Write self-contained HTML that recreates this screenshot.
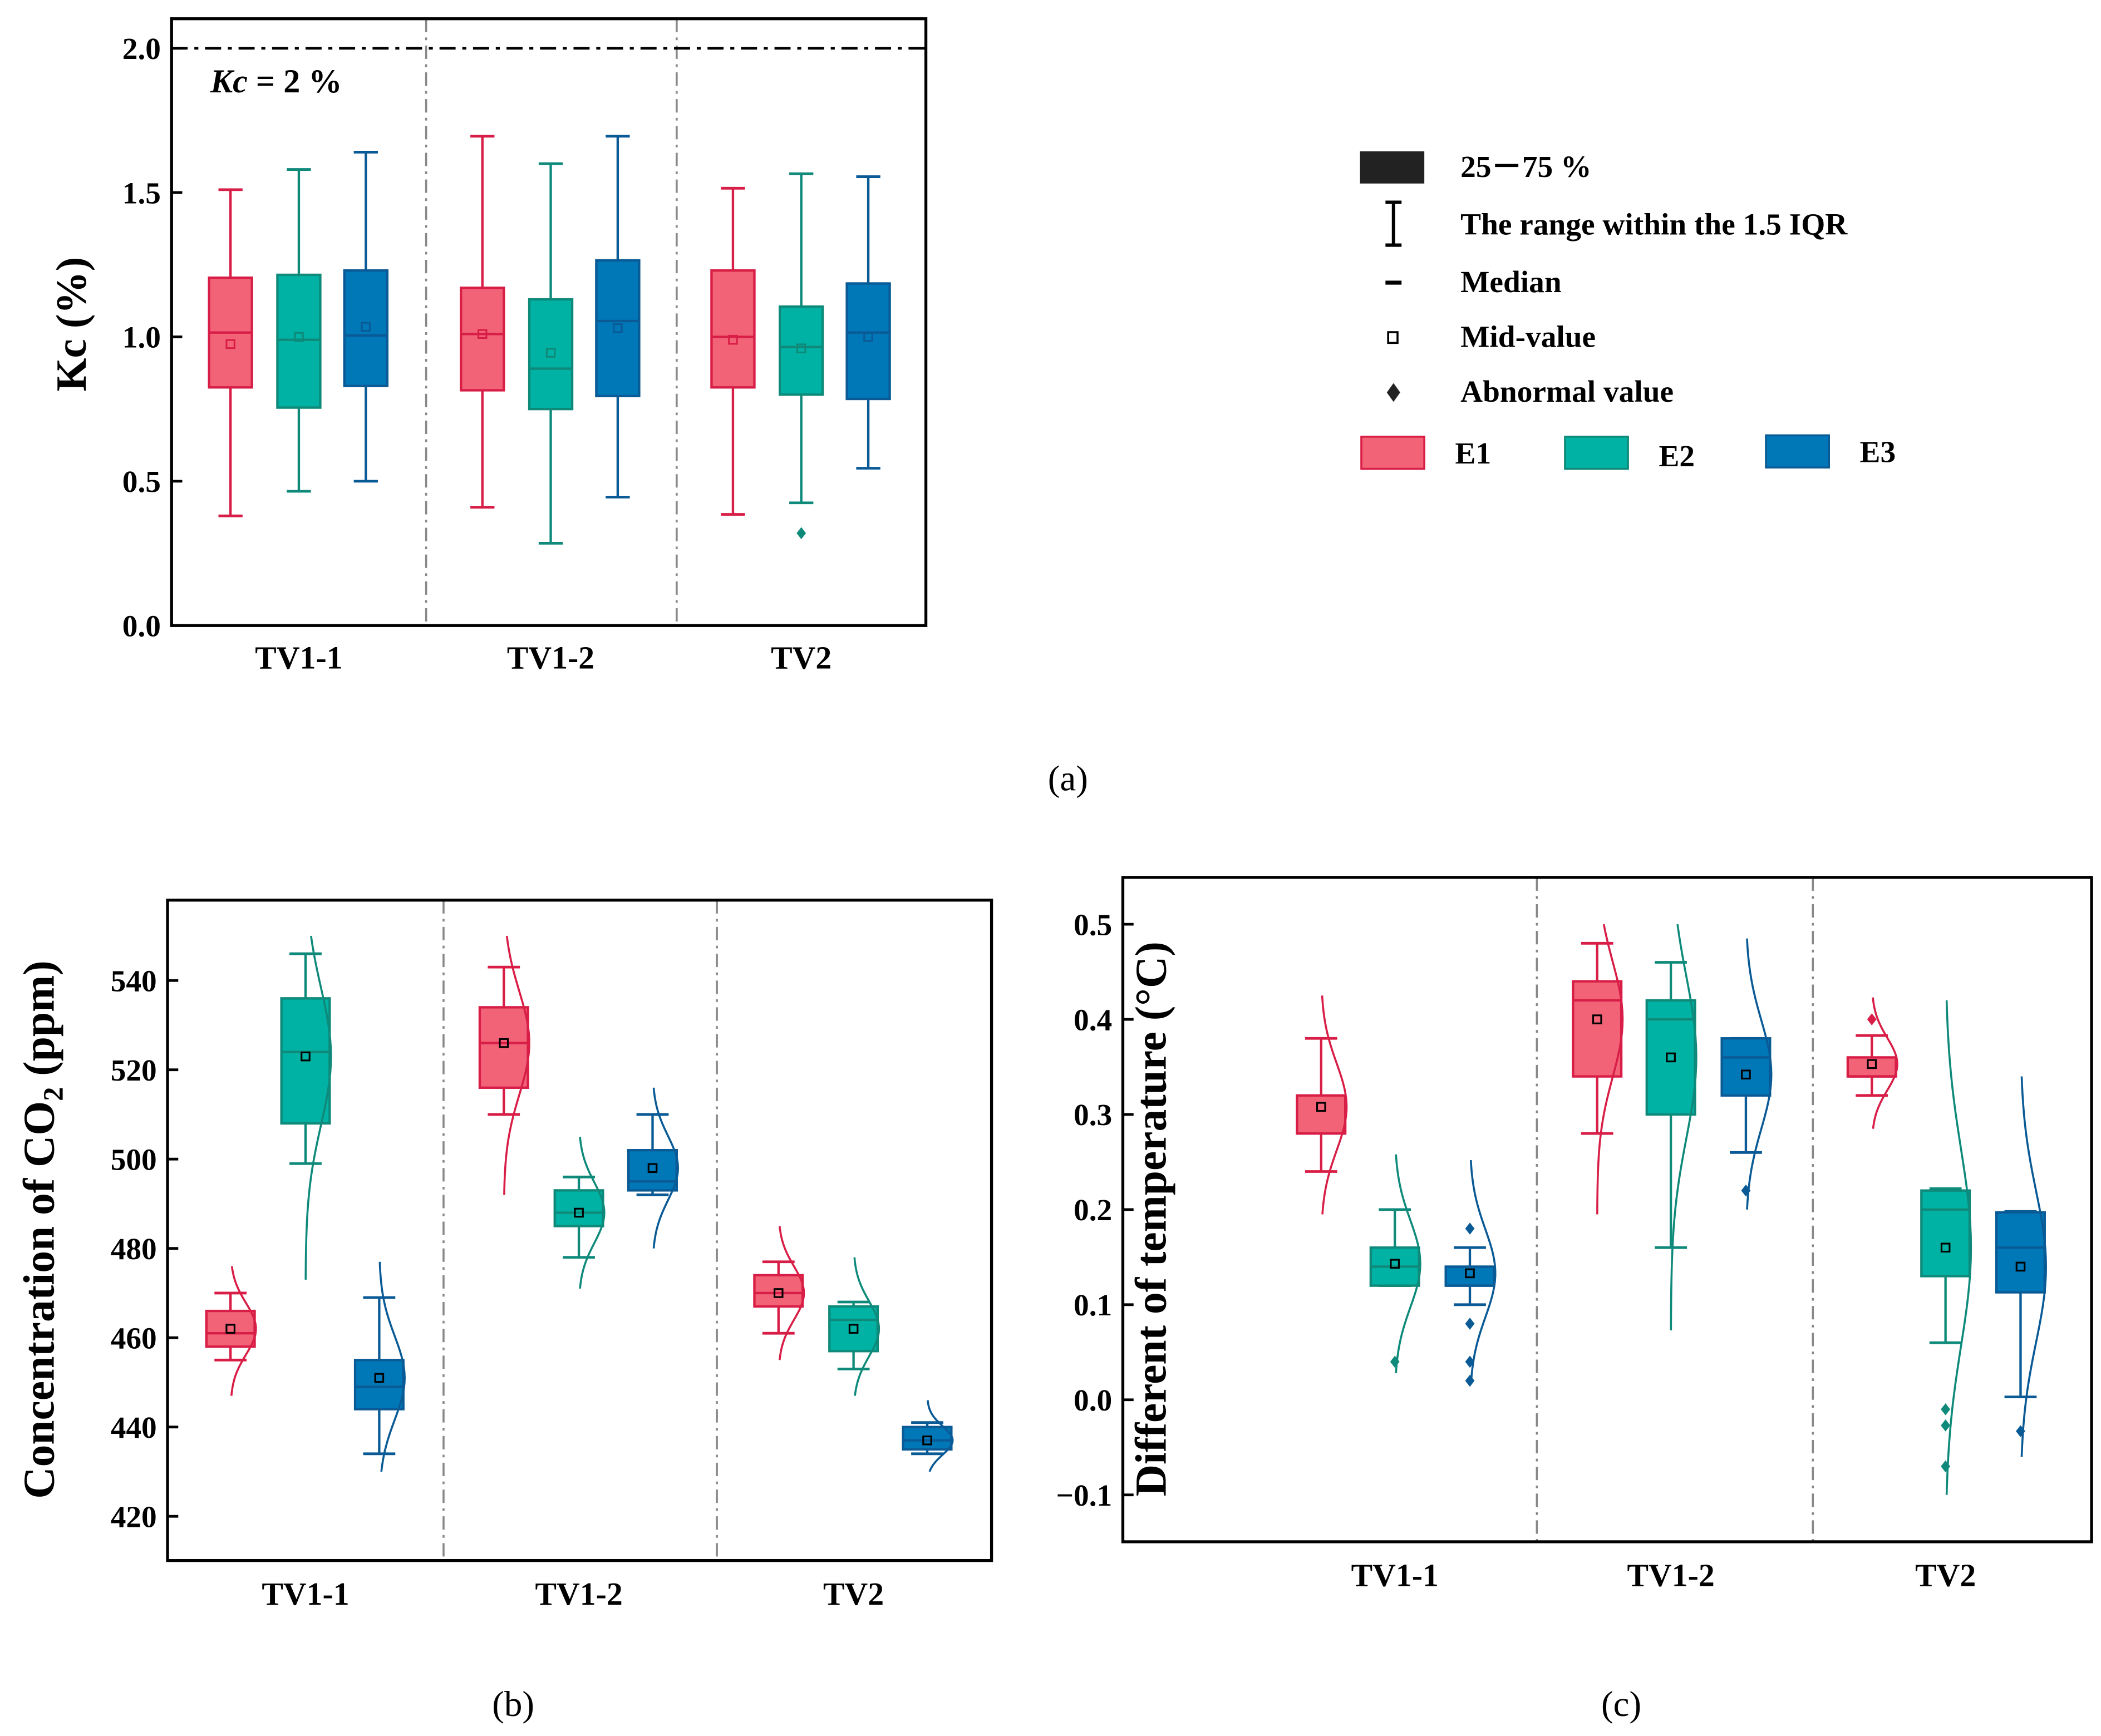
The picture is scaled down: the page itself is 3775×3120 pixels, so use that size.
<!DOCTYPE html>
<html><head><meta charset="utf-8">
<style>
html,body{margin:0;padding:0;background:#fff;}
svg{display:block;}
text{font-family:"Liberation Serif",serif;}
</style></head>
<body>
<svg id="fig" xmlns="http://www.w3.org/2000/svg" width="3775" height="3120" viewBox="0 0 1568 1296">
<rect x="0" y="0" width="1568" height="1296" fill="#fff"/>
<g id="pa"></g>
<g id="pb"></g>
<g id="pc"></g>
<g id="legend">
  <rect x="1015" y="113" width="48" height="24" fill="#222"/>
  <text x="1090" y="132" font-size="23" font-weight="bold">25－75 %</text>
  <g stroke="#000" stroke-width="2.5">
    <line x1="1040" y1="151" x2="1040" y2="183"/><line x1="1034" y1="151" x2="1046" y2="151"/><line x1="1034" y1="183" x2="1046" y2="183"/>
  </g>
  <text x="1090" y="175" font-size="23" font-weight="bold">The range within the 1.5 IQR</text>
  <line x1="1034" y1="211" x2="1046" y2="211" stroke="#000" stroke-width="3"/>
  <text x="1090" y="218" font-size="23" font-weight="bold">Median</text>
  <rect x="1036" y="248" width="7" height="8" fill="#fff" stroke="#000" stroke-width="1.5"/>
  <text x="1090" y="259" font-size="23" font-weight="bold">Mid-value</text>
  <path d="M1040 286 L1045 293 L1040 300 L1035 293 Z" fill="#222"/>
  <text x="1090" y="300" font-size="23" font-weight="bold">Abnormal value</text>
  <rect x="1016" y="326" width="47" height="24" fill="#f26378" stroke="#d81e46" stroke-width="1.5"/>
  <text x="1086" y="346" font-size="23" font-weight="bold">E1</text>
  <rect x="1168" y="326" width="47" height="24" fill="#00b2a3" stroke="#0f8a7a" stroke-width="1.5"/>
  <text x="1238" y="348" font-size="23" font-weight="bold">E2</text>
  <rect x="1318" y="325" width="47" height="24" fill="#0078b8" stroke="#0a5a96" stroke-width="1.5"/>
  <text x="1388" y="345" font-size="23" font-weight="bold">E3</text>
</g>
<text x="797" y="590" font-size="27" text-anchor="middle">(a)</text>
<text x="383" y="1281" font-size="27" text-anchor="middle">(b)</text>
<text x="1210" y="1281" font-size="27" text-anchor="middle">(c)</text>
</svg>
<script>
// ---------- data ----------
const categories = ["TV1-1","TV1-2","TV2"];
const series = ["E1","E2","E3"];
// panel a (Kc %), order: TV1-1 E1,E2,E3, TV1-2 E1,E2,E3, TV2 E1,E2,E3
const aLo   = [0.38,0.465,0.50, 0.41,0.285,0.445, 0.385,0.425,0.545];
const aQ1   = [0.825,0.755,0.83, 0.815,0.75,0.795, 0.825,0.80,0.785];
const aMed  = [1.015,0.99,1.005, 1.01,0.89,1.055, 1.0,0.965,1.015];
const aQ3   = [1.205,1.215,1.23, 1.17,1.13,1.265, 1.23,1.105,1.185];
const aHi   = [1.51,1.58,1.64, 1.695,1.60,1.695, 1.515,1.565,1.555];
const aMean = [0.975,1.0,1.035, 1.01,0.945,1.03, 0.99,0.96,1.0];
const aOut  = [[],[],[], [],[],[], [],[0.32],[]];
const aTicks = [0.0,0.5,1.0,1.5,2.0];
const aTickLabels = ["0.0","0.5","1.0","1.5","2.0"];
// panel b (CO2 ppm)
const bLo   = [455,499,434, 510,478,492, 461,453,434];
const bQ1   = [458,508,444, 516,485,493, 467,457,435];
const bMed  = [461,524,449, 526,488,495, 470,464,437];
const bQ3   = [466,536,455, 534,493,502, 474,467,440];
const bHi   = [470,546,469, 543,496,510, 477,468,441];
const bMean = [462,523,451, 526,488,498, 470,462,437];
const bCurveMin = [447,473,430, 492,471,480, 455,447,430];
const bCurveMax = [476,550,477, 550,505,516, 485,478,446];
const bTicks = [420,440,460,480,500,520,540];
const bTickLabels = ["420","440","460","480","500","520","540"];
// panel c (temperature difference)
const cLo   = [0.24,0.12,0.10, 0.28,0.16,0.26, 0.32,0.06,0.003];
const cQ1   = [0.28,0.12,0.12, 0.34,0.30,0.32, 0.34,0.13,0.113];
const cMed  = [0.28,0.14,0.12, 0.42,0.40,0.36, 0.34,0.20,0.16];
const cQ3   = [0.32,0.16,0.14, 0.44,0.42,0.38, 0.36,0.22,0.197];
const cHi   = [0.38,0.20,0.16, 0.48,0.46,0.38, 0.383,0.222,0.198];
const cMean = [0.308,0.143,0.133, 0.40,0.36,0.342, 0.353,0.16,0.14];
const cOut  = [[],[0.04],[0.18,0.08,0.04,0.02], [],[],[0.22], [0.40],[-0.01,-0.027,-0.07],[-0.033]];
const cCurveMin = [0.195,0.028,0.02, 0.195,0.073,0.20, 0.285,-0.10,-0.06];
const cCurveMax = [0.425,0.258,0.252, 0.50,0.50,0.485, 0.423,0.42,0.34];
const cTicks = [-0.1,0.0,0.1,0.2,0.3,0.4,0.5];
const cTickLabels = ["\u22120.1","0.0","0.1","0.2","0.3","0.4","0.5"];

const fills = ["#f26378","#00b2a3","#0078b8"];
const strokes = ["#d81e46","#0f8a7a","#0a5a96"];
const NS = "http://www.w3.org/2000/svg";
function mk(tag, attrs, parent){
  const e = document.createElementNS(NS, tag);
  for (const k in attrs) e.setAttribute(k, attrs[k]);
  parent.appendChild(e);
  return e;
}
function linScale(d0,d1,r0,r1){ return v => r0 + (v-d0)*(r1-r0)/(d1-d0); }

function drawPanel(g, cfg){
  const {x0,x1,y0,y1,y,ticks,tickLabels,sep,catX,offs,bw,cap,data,title,titleX,titleY,xlabY,meanBlack,curves,name} = cfg;
  sep.forEach((sx,i)=>{
    const l = mk('line',{x1:sx,y1:y0,x2:sx,y2:y1,stroke:'#888','stroke-width':1.5,'stroke-dasharray':'10 4 2 4'},g);
    
    
  });
  if (cfg.refLine!==undefined){
    const ry = y(cfg.refLine);
    const l = mk('line',{x1:x0,y1:ry,x2:x1,y2:ry,stroke:'#000','stroke-width':2,'stroke-dasharray':'12 5 3 5'},g);
    
    
  }
  ticks.forEach((t,i)=>{
    const ty = y(t);
    const tk = mk('line',{x1:x0,y1:ty,x2:x0+8,y2:ty,stroke:'#000','stroke-width':2},g);
    
    
    const tl = mk('text',{x:x0-8,y:ty+8,'font-size':23,'font-weight':'bold','text-anchor':'end'},g);
    tl.textContent = tickLabels[i];
    
    
  });
  categories.forEach((c,i)=>{
    const t = mk('text',{x:catX[i],y:xlabY,'font-size':24,'font-weight':'bold','text-anchor':'middle'},g);
    t.textContent = c;
    
    
  });
  for (let i=0;i<9;i++){
    const ci = Math.floor(i/3), si = i%3;
    const cx = catX[ci] + offs[si];
    const bg = mk('g',{},g);
    
    
    const st = strokes[si];
    const lo=y(data.lo[i]), q1=y(data.q1[i]), md=y(data.med[i]), q3=y(data.q3[i]), hi=y(data.hi[i]);
    mk('line',{x1:cx,y1:hi,x2:cx,y2:q3,stroke:st,'stroke-width':1.8},bg);
    mk('line',{x1:cx,y1:q1,x2:cx,y2:lo,stroke:st,'stroke-width':1.8},bg);
    mk('line',{x1:cx-cap,y1:hi,x2:cx+cap,y2:hi,stroke:st,'stroke-width':2},bg);
    mk('line',{x1:cx-cap,y1:lo,x2:cx+cap,y2:lo,stroke:st,'stroke-width':2},bg);
    mk('rect',{x:cx-bw/2,y:q3,width:bw,height:Math.max(q1-q3,1),fill:fills[si],stroke:st,'stroke-width':1.8},bg);
    mk('line',{x1:cx-bw/2,y1:md,x2:cx+bw/2,y2:md,stroke:st,'stroke-width':1.8},bg);
    if (curves){
      const mn=data.cmin[i], mx=data.cmax[i], mu=data.mean[i];
      const sd=(mx-mn)/5;
      let d='';
      for (let k=0;k<=40;k++){
        const v = mn + (mx-mn)*k/40;
        const px = cx + (bw/2+1)*Math.exp(-0.5*((v-mu)/sd)**2);
        d += (k?'L':'M')+px.toFixed(2)+' '+y(v).toFixed(2);
      }
      mk('path',{d:d,fill:'none',stroke:st,'stroke-width':1.5},bg);
    }
    (data.out[i]||[]).forEach(o=>{
      const oy=y(o);
      mk('path',{d:`M${cx} ${oy-4.5} L${cx+3.5} ${oy} L${cx} ${oy+4.5} L${cx-3.5} ${oy} Z`,fill:st},bg);
    });
    const my=y(data.mean[i]);
    mk('rect',{x:cx-3,y:my-3,width:6,height:6,fill:'none',stroke:meanBlack?'#000':st,'stroke-width':1.3},bg);
  }
  const fr = mk('rect',{x:x0,y:y0,width:x1-x0,height:y1-y0,fill:'none',stroke:'#000','stroke-width':2.2},g);
  
  
  const tt = mk('text',{x:titleX,y:titleY,'font-size':cfg.titleSize,'font-weight':'bold','text-anchor':'middle',transform:`rotate(-90 ${titleX} ${titleY})`},g);
  
  
  tt.innerHTML = title;
}

drawPanel(document.getElementById('pa'),{
  name:'panel-a', x0:128,x1:691,y0:14,y1:467, y:linScale(0,2,467,36),
  ticks:aTicks,tickLabels:aTickLabels, sep:[318,505], catX:[223,411,598], offs:[-51,0,50],
  bw:32, cap:9, data:{lo:aLo,q1:aQ1,med:aMed,q3:aQ3,hi:aHi,mean:aMean,out:aOut},
  title:'Kc (%)', titleX:64, titleY:242, titleSize:32, xlabY:499, meanBlack:false, curves:false, refLine:2.0
});
{
  const t = mk('text',{x:157,y:69,'font-size':25,'font-weight':'bold'},document.getElementById('pa'));
  
  
  t.innerHTML = '<tspan font-style="italic">Kc</tspan> = 2 %';
}
drawPanel(document.getElementById('pb'),{
  name:'panel-b', x0:125,x1:740,y0:672,y1:1165, y:linScale(420,540,1132,732),
  ticks:bTicks,tickLabels:bTickLabels, sep:[331,535], catX:[228,432,637], offs:[-56,0,55],
  bw:36, cap:12, data:{lo:bLo,q1:bQ1,med:bMed,q3:bQ3,hi:bHi,mean:bMean,out:[[],[],[],[],[],[],[],[],[]],cmin:bCurveMin,cmax:bCurveMax},
  title:'Concentration of CO<tspan font-size="21" dy="7">2</tspan><tspan dy="-7"> (ppm)</tspan>', titleX:40, titleY:918, titleSize:33, xlabY:1198, meanBlack:true, curves:true
});
drawPanel(document.getElementById('pc'),{
  name:'panel-c', x0:838,x1:1561,y0:655,y1:1151, y:linScale(0,0.5,1045,690),
  ticks:cTicks,tickLabels:cTickLabels, sep:[1147,1353], catX:[1041,1247,1452], offs:[-55,0,56],
  bw:36, cap:12, data:{lo:cLo,q1:cQ1,med:cMed,q3:cQ3,hi:cHi,mean:cMean,out:cOut,cmin:cCurveMin,cmax:cCurveMax},
  title:'Different of temperature (°C)', titleX:870, titleY:910, titleSize:33, xlabY:1184, meanBlack:true, curves:true
});
</script>
</body></html>
